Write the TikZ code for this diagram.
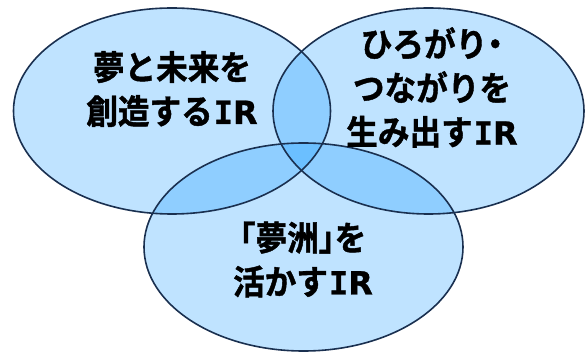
\documentclass[tikz,border=0pt]{standalone}
\usepackage{fontspec}
\newfontfamily\jp{Noto Sans CJK JP}[BoldFont={Noto Sans CJK JP Bold},BoldFeatures={FakeBold=1.2},FakeStretch=0.93]
\newfontfamily\jph{Noto Sans CJK JP}[BoldFont={Noto Sans CJK JP Bold},BoldFeatures={FakeBold=1.2},FakeStretch=0.93,RawFeature=+halt]
\newfontfamily\lat{DejaVu Sans}[BoldFeatures={FakeBold=0.8}]
\newfontfamily\latm{DejaVu Sans Mono}[BoldFeatures={FakeBold=0.8}]
\newcommand{\IRtxt}{{\fontsize{32}{44}\selectfont\bfseries\kern1pt{\latm I}{\lat R}}}
\definecolor{vfill}{RGB}{0,147,255}
\definecolor{vline}{RGB}{26,48,80}
\begin{document}
\begin{tikzpicture}[x=1pt,y=-1pt,
  vfillst/.style={fill=vfill,fill opacity=0.25},
  vlinest/.style={draw=vline,line width=1.6pt},
  lbl/.style={align=center,inner sep=0pt,font=\jp\bfseries\fontsize{34}{44}\selectfont}]
\useasboundingbox[fill=white] (0,0) rectangle (586,352);
% ellipse fills
\path[vfillst] (172,111) ellipse [x radius=158.5, y radius=103];
\path[vfillst] (428.5,111) ellipse [x radius=155.5, y radius=103];
\path[vfillst] (303.5,247) ellipse [x radius=159.5, y radius=104];
% outlines
\draw[vlinest] (172,111) ellipse [x radius=158.5, y radius=103];
\draw[vlinest] (428.5,111) ellipse [x radius=155.5, y radius=103];
\draw[vlinest] (303.5,247) ellipse [x radius=159.5, y radius=104];
% labels
\node[lbl] (tl) at (172,89) {夢と未来を\\創造する\IRtxt};
\node[lbl] (tr) at (432,87.5) {ひろがり{\jph ・}\\つながりを\\生み出す\IRtxt};
\node[lbl] (tb) at (303,259.5) {{\jph 「夢洲」を}\\活かす\IRtxt};
\end{tikzpicture}
\end{document}
